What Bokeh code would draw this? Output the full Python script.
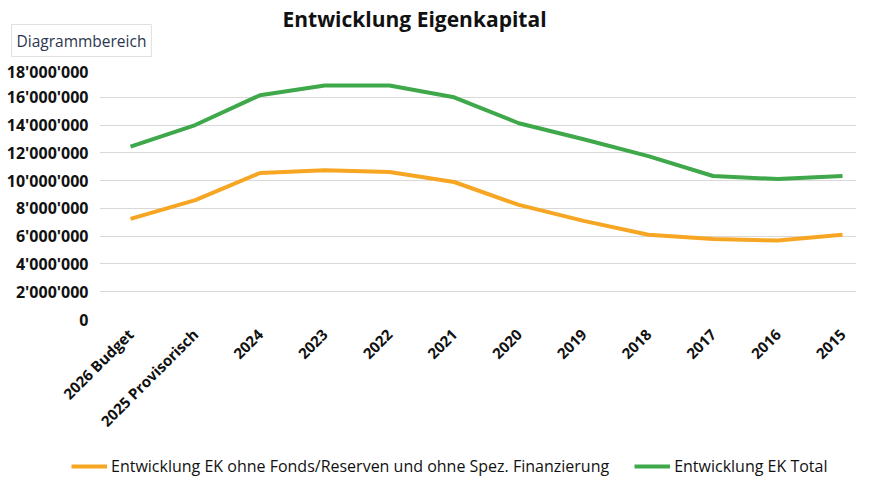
from bokeh.plotting import figure
from bokeh.models import (FixedTicker, Range1d, Label, Legend, LegendItem, ColumnDataSource)
from bokeh.layouts import column
from bokeh.embed import file_html
from bokeh.resources import INLINE
import math

categories = ["2026 Budget", "2025 Provisorisch", "2024", "2023", "2022", "2021",
              "2020", "2019", "2018", "2017", "2016", "2015"]
ek_ohne = [7250000, 8600000, 10550000, 10750000, 10620000, 9900000,
           8250000, 7100000, 6100000, 5800000, 5680000, 6100000]
ek_total = [12450000, 14000000, 16150000, 16850000, 16850000, 16000000,
            14130000, 12980000, 11760000, 10330000, 10110000, 10330000]
y_ticks = [0, 2000000, 4000000, 6000000, 8000000, 10000000, 12000000,
           14000000, 16000000, 18000000]
y_tick_labels = ["0", "2'000'000", "4'000'000", "6'000'000", "8'000'000",
                 "10'000'000", "12'000'000", "14'000'000", "16'000'000", "18'000'000"]
title_text = "Entwicklung Eigenkapital"
area_label = "Diagrammbereich"
legend_labels = ["Entwicklung EK ohne Fonds/Reserven und ohne Spez. Finanzierung",
                 "Entwicklung EK Total"]

FONT = "Open Sans"
ORANGE = "#F6A623"
GREEN = "#3FA84A"
W = 856

x_idx = list(range(len(categories)))
src = ColumnDataSource(dict(x=x_idx, a=ek_ohne, b=ek_total))

# ---------- header (title + chart-area box) ----------
head = figure(width=W, height=60, output_backend="svg", toolbar_location=None,
              x_axis_type=None, y_axis_type=None, min_border=0,
              x_range=Range1d(0, 1), y_range=Range1d(0, 1))
head.frame_align = False
head.outline_line_color = None
head.xgrid.visible = False
head.ygrid.visible = False
head.add_layout(Label(x=414, y=42, x_units="screen", y_units="screen", text=title_text,
                      text_font=FONT, text_font_size="21px", text_font_style="bold",
                      text_align="center", text_baseline="middle", text_color="#111111"))
head.add_layout(Label(x=11, y=20, x_units="screen", y_units="screen", text=area_label,
                      text_font=FONT, text_font_size="15.5px", text_align="left",
                      text_baseline="middle", text_color="#2b3650",
                      background_fill_color="white", border_line_color="#e0e0e0",
                      padding=5))

# ---------- main chart ----------
p = figure(width=W, height=380, output_backend="svg", toolbar_location=None,
           x_range=Range1d(-0.479, 11.216), y_range=Range1d(0, 18000000),
           min_border_left=99, min_border_right=0, min_border_top=9,
           min_border_bottom=120)
p.frame_align = False
p.outline_line_color = None

p.line("x", "a", source=src, line_color=ORANGE, line_width=4, line_join="round")
p.line("x", "b", source=src, line_color=GREEN, line_width=4, line_join="round")

p.yaxis.ticker = FixedTicker(ticks=y_ticks)
p.yaxis.major_label_overrides = {t: l for t, l in zip(y_ticks, y_tick_labels)}
p.yaxis.axis_line_color = None
p.yaxis.major_tick_line_color = None
p.yaxis.minor_tick_line_color = None
p.yaxis.major_label_standoff = 5
p.yaxis.major_label_text_font = FONT
p.yaxis.major_label_text_font_size = "16px"
p.yaxis.major_label_text_font_style = "bold"
p.yaxis.major_label_text_color = "#111111"

p.xaxis.ticker = FixedTicker(ticks=x_idx)
p.xaxis.major_label_overrides = {i: c for i, c in zip(x_idx, categories)}
p.xaxis.major_label_orientation = math.pi / 4
p.xaxis.axis_line_color = None
p.xaxis.major_tick_line_color = None
p.xaxis.minor_tick_line_color = None
p.xaxis.major_label_standoff = 6
p.xaxis.major_label_text_font = FONT
p.xaxis.major_label_text_font_size = "15px"
p.xaxis.major_label_text_font_style = "bold"
p.xaxis.major_label_text_color = "#111111"

p.xgrid.grid_line_color = None
p.ygrid.ticker = FixedTicker(ticks=y_ticks)
p.ygrid.grid_line_color = "#d9d9d9"
p.ygrid.grid_line_width = 1

# ---------- footer legend ----------
foot = figure(width=W, height=37, output_backend="svg", toolbar_location=None,
              x_axis_type=None, y_axis_type=None, min_border=0,
              x_range=Range1d(0, 1), y_range=Range1d(0, 1))
foot.frame_align = False
foot.outline_line_color = None
foot.xgrid.visible = False
foot.ygrid.visible = False
# legend keys: same series, lying outside this strip's ranges (clipped), only the keys show
k1 = foot.line("x", "a", source=src, line_color=ORANGE, line_width=4)
k2 = foot.line("x", "b", source=src, line_color=GREEN, line_width=4)
legend = Legend(items=[LegendItem(label=legend_labels[0], renderers=[k1]),
                       LegendItem(label=legend_labels[1], renderers=[k2])],
                orientation="horizontal", location=(71, 0),
                padding=0, margin=0, spacing=25, glyph_width=36, glyph_height=18,
                label_height=18, label_standoff=4, label_text_font=FONT,
                label_text_font_size="16px", label_text_color="#111111",
                border_line_color=None, background_fill_alpha=0)
foot.add_layout(legend, "center")

layout = column(head, p, foot, spacing=0)
open("out.html", "w").write(file_html(layout, INLINE))
